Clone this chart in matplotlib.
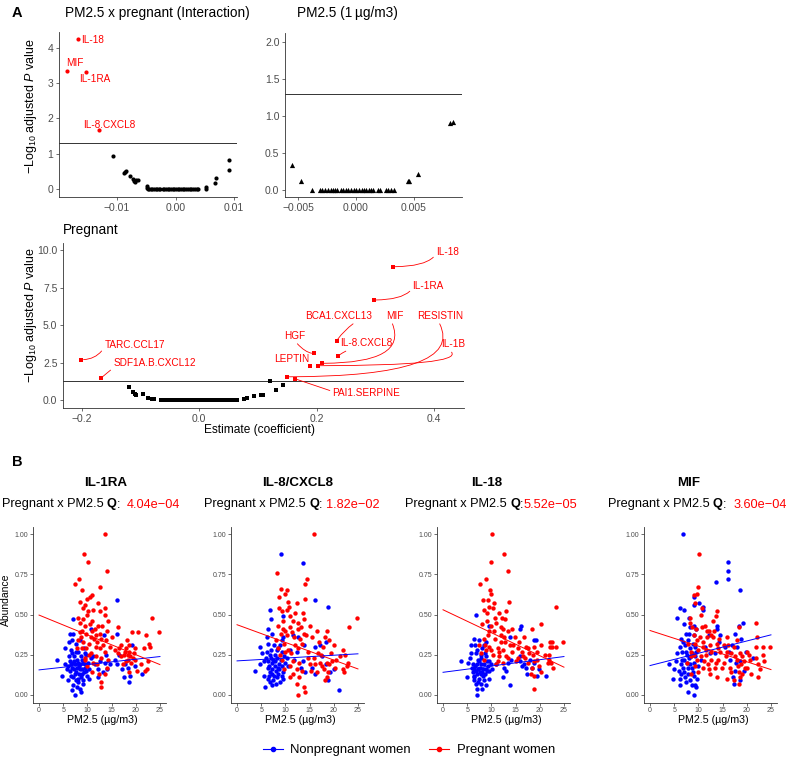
import numpy as np
import matplotlib
matplotlib.use('Agg')
import matplotlib.pyplot as plt
from matplotlib.lines import Line2D

plt.rcParams['font.family'] = ['Liberation Sans', 'DejaVu Sans']
plt.rcParams['mathtext.fontset'] = 'custom'
plt.rcParams['mathtext.rm'] = 'Liberation Sans'
plt.rcParams['mathtext.it'] = 'Liberation Sans:italic'
plt.rcParams['mathtext.bf'] = 'Liberation Sans:bold'

# ---------------- panel A data ----------------
# PM2.5 x pregnant interaction
int_names = ['IL-18', 'MIF', 'IL-1RA', 'IL-8.CXCL8']
int_sig_est = [-0.0167, -0.01845, -0.0153, -0.0130]
int_sig_p = [4.24, 3.34, 3.32, 1.67]
int_lab_x = [-0.01615, -0.01723, -0.01383, -0.01137]
int_lab_y = [4.22, 3.55, 3.10, 1.82]
int_ns_est = [-0.0107, -0.0088, -0.0086, -0.0084, -0.0078, -0.0072, -0.0071, -0.0070,
              -0.0068, -0.0064, -0.0049, -0.0049, -0.0047, -0.0045, -0.0042, -0.0040,
              -0.0037, -0.0034, -0.0031, -0.0029, -0.0026, -0.0022, -0.0020, -0.0017,
              -0.0013, -0.0011, -0.0008, -0.0004, -0.0002, 0.0001, 0.0004, 0.0006,
              0.0009, 0.0013, 0.0015, 0.0018, 0.0021, 0.0024, 0.0027, 0.0030, 0.0033,
              0.0036, 0.0038, 0.0052, 0.0052, 0.0068, 0.0069, 0.0091, 0.0092]
int_ns_p = [0.92, 0.44, 0.47, 0.50, 0.36, 0.28, 0.22, 0.19,
            0.25, 0.24, 0.07, 0.02, 0.01, 0.00, 0.01, 0.00,
            0.00, 0.01, 0.00, 0.00, 0.01, 0.00, 0.00, 0.00,
            0.01, 0.00, 0.00, 0.00, 0.01, 0.00, 0.00, 0.00,
            0.00, 0.01, 0.00, 0.00, 0.00, 0.00, 0.01, 0.00, 0.00,
            0.00, 0.00, 0.05, 0.01, 0.18, 0.30, 0.81, 0.53]

# PM2.5 main effect (1 ug/m3)
pm_est = [-0.0055, -0.0048, -0.0038, -0.0031, -0.0029, -0.0027, -0.0024, -0.0022,
          -0.0020, -0.0018, -0.0016, -0.0013, -0.0011, -0.0009, -0.0007, -0.0004,
          -0.0002, 0.0000, 0.0003, 0.0005, 0.0007, 0.0009, 0.0011, 0.0013, 0.0015,
          0.0019, 0.0021, 0.0026, 0.0028, 0.0030, 0.0033, 0.0045, 0.0046, 0.0054,
          0.0082, 0.0084]
pm_p = [0.34, 0.13, 0.00, 0.01, 0.00, 0.01, 0.00, 0.00,
        0.01, 0.00, 0.00, 0.01, 0.00, 0.00, 0.01, 0.00,
        0.00, 0.01, 0.00, 0.00, 0.01, 0.00, 0.00, 0.01, 0.00,
        0.01, 0.00, 0.01, 0.00, 0.01, 0.00, 0.13, 0.12, 0.22,
        0.91, 0.92]

# Pregnant main effect
preg_names = ['IL-18', 'IL-1RA', 'BCA1.CXCL13', 'HGF', 'IL-8.CXCL8', 'MIF', 'IL-1B',
              'LEPTIN', 'RESISTIN', 'PAI1.SERPINE', 'TARC.CCL17', 'SDF1A.B.CXCL12']
preg_sig_est = [0.330, 0.297, 0.234, 0.195, 0.236, 0.209, 0.202, 0.189, 0.150, 0.163,
                -0.2006, -0.1666]
preg_sig_p = [8.89, 6.67, 3.95, 3.11, 2.93, 2.45, 2.29, 2.29, 1.55, 1.42, 2.69, 1.49]
preg_lab_x = [0.423, 0.390, 0.237, 0.163, 0.285, 0.333, 0.432, 0.158, 0.411, 0.285,
              -0.110, -0.076]
preg_lab_y = [9.89, 7.62, 5.60, 4.27, 3.78, 5.60, 3.71, 2.71, 5.60, 0.44, 3.67, 2.44]
preg_ns_est = [-0.120, -0.112, -0.110, -0.107, -0.096, -0.087, -0.080, -0.077,
               -0.065, -0.061, -0.057, -0.053, -0.050, -0.046, -0.042, -0.038,
               -0.034, -0.031, -0.027, -0.023, -0.019, -0.015, -0.012, -0.008,
               -0.004, 0.000, 0.004, 0.008, 0.012, 0.016, 0.020, 0.025, 0.031,
               0.036, 0.040, 0.046, 0.050, 0.055, 0.060, 0.065,
               0.077, 0.082, 0.093, 0.106, 0.108, 0.120, 0.130, 0.142]
preg_ns_p = [0.87, 0.53, 0.38, 0.31, 0.38, 0.11, 0.04, 0.05,
             0.01, 0.00, 0.01, 0.00, 0.00, 0.01, 0.00, 0.00,
             0.01, 0.00, 0.00, 0.00, 0.01, 0.00, 0.00, 0.00,
             0.00, 0.01, 0.00, 0.00, 0.00, 0.01, 0.00, 0.00, 0.00,
             0.01, 0.00, 0.00, 0.01, 0.00, 0.00, 0.01,
             0.07, 0.16, 0.27, 0.36, 0.33, 1.24, 0.67, 1.02]

# ---------------- panel B data (PM2.5, abundance) ----------------
il1ra_preg = [(13.6, 1.00), (9.2, 0.88), (10.1, 0.83), (14.0, 0.77), (8.2, 0.72), (7.5, 0.69),
              (12.6, 0.67), (8.8, 0.65), (10.5, 0.61), (10.0, 0.60), (8.5, 0.58), (9.4, 0.56),
              (9.1, 0.54), (10.2, 0.52), (11.2, 0.53), (12.6, 0.52), (13.7, 0.54), (13.7, 0.50),
              (14.2, 0.46), (13.1, 0.43), (12.2, 0.43), (11.0, 0.46), (8.0, 0.48), (8.4, 0.45),
              (8.4, 0.39), (8.9, 0.40), (10.7, 0.36), (11.7, 0.37), (11.4, 0.35), (12.6, 0.38),
              (14.0, 0.40), (15.1, 0.36), (16.3, 0.42), (19.2, 0.39), (20.4, 0.39), (23.3, 0.48),
              (24.9, 0.39), (22.1, 0.37), (22.7, 0.32), (22.9, 0.30), (8.0, 0.34), (8.9, 0.29),
              (7.9, 0.29), (9.8, 0.29), (9.4, 0.23), (11.7, 0.30), (10.8, 0.26), (12.6, 0.29),
              (13.6, 0.27), (12.8, 0.23), (14.3, 0.22), (16.6, 0.29), (16.4, 0.26), (18.0, 0.29),
              (18.5, 0.27), (18.2, 0.34), (17.6, 0.25), (18.9, 0.24), (19.6, 0.26), (19.1, 0.20),
              (17.3, 0.19), (20.3, 0.15), (22.0, 0.15), (22.3, 0.16), (18.7, 0.14), (11.9, 0.19),
              (11.0, 0.14), (12.4, 0.13), (14.1, 0.17), (13.6, 0.13), (12.9, 0.08), (12.9, 0.05),
              (11.1, 0.20), (10.0, 0.18), (9.6, 0.22), (9.0, 0.33), (10.4, 0.32), (12.0, 0.33),
              (17.0, 0.24), (18.4, 0.22), (19.4, 0.23), (9.0, 0.47), (10.6, 0.44), (9.7, 0.38),
              (9.6, 0.43), (10.9, 0.40), (11.5, 0.41), (12.8, 0.35), (13.3, 0.31), (15.8, 0.28),
              (16.9, 0.31), (17.7, 0.27), (18.6, 0.31), (19.9, 0.22), (21.0, 0.19), (21.6, 0.29),
              (8.7, 0.36), (10.3, 0.25), (11.8, 0.24), (13.8, 0.34), (14.6, 0.30), (12.2, 0.57),
              (11.0, 0.62), (9.9, 0.50), (17.9, 0.21), (18.3, 0.25), (19.8, 0.29), (22.6, 0.21)]
il1ra_nonpreg = [(16.1, 0.59), (7.0, 0.47), (6.4, 0.38), (7.1, 0.38), (10.7, 0.41), (13.4, 0.37),
                 (16.2, 0.38), (19.3, 0.31), (6.1, 0.33), (6.8, 0.34), (5.4, 0.29), (6.6, 0.28),
                 (3.7, 0.22), (5.3, 0.19), (6.5, 0.21), (7.0, 0.20), (7.5, 0.19), (8.0, 0.20),
                 (8.5, 0.19), (9.1, 0.20), (9.6, 0.19), (6.8, 0.17), (7.3, 0.16), (7.8, 0.17),
                 (8.4, 0.16), (8.9, 0.16), (9.4, 0.17), (6.3, 0.15), (7.7, 0.14), (8.2, 0.13),
                 (6.6, 0.12), (7.1, 0.11), (7.7, 0.09), (8.0, 0.08), (4.7, 0.12), (7.0, 0.06),
                 (7.5, 0.00), (8.4, 0.04), (9.1, 0.07), (10.3, 0.10), (14.0, 0.16), (14.7, 0.19),
                 (13.6, 0.20), (16.1, 0.19), (17.1, 0.16), (17.5, 0.11), (18.7, 0.08), (21.2, 0.13),
                 (18.3, 0.17), (12.7, 0.21), (11.6, 0.19), (10.1, 0.20), (10.8, 0.23), (9.8, 0.25),
                 (8.8, 0.22), (9.4, 0.26), (8.0, 0.27), (13.3, 0.14), (12.1, 0.11), (7.2, 0.24),
                 (8.6, 0.11), (7.4, 0.13), (6.0, 0.18), (9.3, 0.14), (7.9, 0.22), (8.7, 0.24),
                 (6.2, 0.24), (6.9, 0.26), (7.6, 0.27), (8.3, 0.18), (8.8, 0.13), (9.7, 0.15),
                 (6.7, 0.19), (7.3, 0.21), (7.9, 0.05), (8.1, 0.10), (9.0, 0.09), (6.0, 0.09),
                 (5.7, 0.16), (10.0, 0.12), (9.3, 0.29), (7.7, 0.32), (8.5, 0.34), (12.2, 0.16),
                 (13.9, 0.25), (15.8, 0.22), (16.5, 0.25), (17.8, 0.19), (18.9, 0.12), (19.8, 0.18),
                 (6.9, 0.03), (8.6, 0.02), (10.4, 0.16), (11.2, 0.24)]

il8_preg = [(16.0, 1.00), (8.3, 0.76), (14.4, 0.72), (14.0, 0.69), (9.0, 0.66), (10.4, 0.65),
            (10.0, 0.63), (8.7, 0.61), (10.5, 0.58), (14.1, 0.60), (12.4, 0.57), (8.6, 0.54),
            (10.4, 0.53), (13.6, 0.51), (13.8, 0.47), (11.6, 0.46), (12.7, 0.45), (9.6, 0.46),
            (8.5, 0.43), (10.9, 0.42), (12.7, 0.41), (16.6, 0.40), (18.5, 0.40), (24.8, 0.48),
            (23.2, 0.42), (15.0, 0.43), (9.0, 0.38), (10.4, 0.37), (11.8, 0.36), (13.8, 0.38),
            (15.4, 0.36), (18.1, 0.36), (20.0, 0.31), (17.8, 0.30), (13.4, 0.32), (11.9, 0.31),
            (9.7, 0.32), (8.5, 0.29), (10.5, 0.28), (12.6, 0.29), (14.7, 0.27), (16.7, 0.26),
            (19.5, 0.26), (21.9, 0.28), (22.4, 0.25), (11.2, 0.26), (9.2, 0.22), (11.6, 0.21),
            (12.9, 0.20), (10.9, 0.18), (9.8, 0.16), (12.3, 0.16), (15.0, 0.19), (16.2, 0.19),
            (17.6, 0.18), (18.0, 0.16), (18.8, 0.14), (20.2, 0.17), (21.9, 0.16), (22.2, 0.14),
            (18.5, 0.11), (18.1, 0.09), (12.9, 0.11), (12.3, 0.07), (13.8, 0.05), (12.6, 0.00),
            (14.1, 0.02), (10.9, 0.11), (15.2, 0.15), (16.0, 0.23), (8.0, 0.34), (9.4, 0.41),
            (11.0, 0.49), (17.2, 0.20), (19.0, 0.19), (13.0, 0.35),
            (9.3, 0.52), (10.8, 0.55), (12.0, 0.51), (9.9, 0.40), (11.4, 0.39), (13.2, 0.42),
            (14.3, 0.37), (16.9, 0.33), (19.0, 0.34), (21.2, 0.24), (23.0, 0.20), (17.4, 0.25),
            (19.7, 0.21), (11.5, 0.13), (13.5, 0.15), (14.6, 0.23), (16.6, 0.14), (18.6, 0.20),
            (20.4, 0.22), (22.7, 0.18), (10.0, 0.27), (8.8, 0.25)]
il8_nonpreg = [(9.0, 0.88), (13.7, 0.82), (18.8, 0.55), (16.1, 0.59), (6.9, 0.53), (7.1, 0.47),
               (9.6, 0.49), (6.5, 0.41), (7.2, 0.38), (9.2, 0.34), (12.6, 0.36), (11.6, 0.37),
               (4.8, 0.30), (6.5, 0.32), (7.6, 0.31), (8.5, 0.29), (6.1, 0.27), (6.8, 0.25),
               (7.8, 0.25), (9.2, 0.27), (4.7, 0.19), (5.6, 0.21), (6.5, 0.21), (7.2, 0.20),
               (7.8, 0.21), (8.6, 0.19), (9.3, 0.18), (6.3, 0.17), (7.2, 0.16), (8.0, 0.15),
               (8.7, 0.16), (9.5, 0.14), (3.8, 0.15), (5.6, 0.12), (6.3, 0.10), (7.4, 0.09),
               (8.3, 0.11), (9.2, 0.12), (5.8, 0.05), (7.2, 0.06), (8.0, 0.07), (8.8, 0.08),
               (13.6, 0.21), (13.3, 0.17), (14.0, 0.14), (16.2, 0.13), (16.2, 0.30), (17.1, 0.31),
               (18.4, 0.33), (15.4, 0.17), (18.8, 0.09), (20.0, 0.16), (21.1, 0.03), (10.9, 0.28),
               (10.3, 0.23), (7.0, 0.23), (8.2, 0.23), (6.8, 0.14), (9.9, 0.20), (7.7, 0.12),
               (6.6, 0.18), (7.5, 0.22), (8.4, 0.17), (9.0, 0.22), (9.8, 0.24), (6.0, 0.23),
               (5.2, 0.26), (7.0, 0.28), (8.2, 0.28), (8.8, 0.31), (9.6, 0.36), (6.2, 0.36),
               (7.3, 0.13), (8.5, 0.13), (9.4, 0.10), (6.9, 0.08), (10.6, 0.18), (11.8, 0.22),
               (12.3, 0.27), (13.9, 0.31), (17.5, 0.24), (18.3, 0.19), (19.2, 0.14), (7.9, 0.18),
               (6.7, 0.12)]

il18_preg = [(10.1, 1.00), (12.6, 0.88), (9.9, 0.83), (13.5, 0.77), (8.8, 0.72), (7.6, 0.69),
             (9.7, 0.65), (9.9, 0.63), (8.3, 0.59), (9.2, 0.59), (13.7, 0.58), (10.5, 0.57),
             (8.5, 0.53), (10.3, 0.54), (11.5, 0.51), (23.3, 0.55), (12.2, 0.48), (12.8, 0.47),
             (9.0, 0.46), (8.1, 0.44), (9.9, 0.43), (20.3, 0.44), (9.4, 0.40), (10.5, 0.40),
             (11.9, 0.42), (14.2, 0.41), (13.5, 0.40), (18.4, 0.41), (12.7, 0.36), (14.8, 0.36),
             (16.7, 0.36), (8.4, 0.35), (10.8, 0.35), (22.1, 0.33), (22.6, 0.33), (24.9, 0.33),
             (22.1, 0.30), (22.6, 0.30), (23.3, 0.30), (7.5, 0.31), (9.6, 0.30), (11.3, 0.29),
             (12.4, 0.28), (13.8, 0.31), (15.5, 0.29), (17.6, 0.29), (18.9, 0.30), (20.3, 0.31),
             (7.9, 0.26), (10.3, 0.25), (11.6, 0.24), (13.1, 0.24), (14.2, 0.27), (16.5, 0.24),
             (18.6, 0.25), (21.6, 0.20), (22.4, 0.20), (22.8, 0.17), (8.4, 0.22), (11.0, 0.19),
             (12.4, 0.20), (15.1, 0.21), (17.0, 0.23), (18.9, 0.21), (18.3, 0.17), (18.1, 0.13),
             (18.9, 0.12), (18.8, 0.04), (20.3, 0.14), (11.4, 0.21), (9.3, 0.37), (11.0, 0.45),
             (12.0, 0.33), (17.8, 0.26), (19.5, 0.22), (8.9, 0.28),
             (9.1, 0.51), (10.8, 0.48), (11.9, 0.37), (12.9, 0.33), (14.5, 0.31), (15.8, 0.33),
             (16.3, 0.27), (17.2, 0.30), (19.4, 0.27), (21.0, 0.25), (22.0, 0.25), (8.6, 0.31),
             (10.0, 0.28), (11.6, 0.27), (13.4, 0.23), (15.5, 0.23), (17.6, 0.20), (19.9, 0.18),
             (21.9, 0.22), (12.4, 0.41), (13.0, 0.52), (9.4, 0.55)]
il18_nonpreg = [(6.9, 0.50), (9.4, 0.43), (16.2, 0.43), (16.0, 0.41), (19.2, 0.34), (6.3, 0.35),
                (5.8, 0.31), (6.7, 0.31), (8.4, 0.31), (8.9, 0.33), (13.8, 0.36), (6.8, 0.26),
                (7.8, 0.25), (8.9, 0.24), (5.6, 0.23), (3.7, 0.21), (5.1, 0.20), (6.1, 0.19),
                (7.0, 0.19), (7.8, 0.19), (8.5, 0.19), (9.2, 0.18), (9.9, 0.19), (11.0, 0.19),
                (6.5, 0.16), (7.3, 0.16), (8.2, 0.16), (8.9, 0.16), (9.6, 0.15), (6.1, 0.14),
                (7.0, 0.13), (7.8, 0.13), (8.7, 0.13), (4.9, 0.11), (6.5, 0.11), (7.5, 0.10),
                (8.4, 0.09), (6.8, 0.07), (7.8, 0.07), (7.1, 0.04), (7.0, 0.00), (8.9, 0.06),
                (12.4, 0.11), (13.8, 0.06), (12.7, 0.17), (13.5, 0.20), (16.0, 0.21), (16.3, 0.18),
                (17.2, 0.17), (17.4, 0.13), (18.9, 0.20), (18.4, 0.17), (19.4, 0.12), (21.3, 0.12),
                (18.9, 0.34), (7.4, 0.21), (8.1, 0.14), (9.0, 0.21), (6.4, 0.12), (7.6, 0.17),
                (6.6, 0.18), (7.2, 0.22), (7.9, 0.23), (8.6, 0.26), (9.5, 0.21), (6.0, 0.17),
                (6.9, 0.15), (7.6, 0.14), (8.3, 0.12), (9.1, 0.15), (10.1, 0.16), (6.4, 0.09),
                (7.3, 0.08), (8.0, 0.04), (9.4, 0.10), (5.8, 0.26), (7.1, 0.28), (8.0, 0.29),
                (7.5, 0.34), (13.0, 0.15), (14.0, 0.22), (16.8, 0.19), (18.0, 0.22), (19.8, 0.16),
                (15.9, 0.24)]

mif_preg = [(10.1, 0.88), (10.0, 0.67), (9.8, 0.63), (9.0, 0.62), (9.2, 0.57), (10.7, 0.54),
            (8.3, 0.48), (10.5, 0.50), (13.9, 0.52), (13.6, 0.49), (13.1, 0.46), (8.3, 0.45),
            (8.7, 0.42), (10.7, 0.42), (11.7, 0.40), (12.2, 0.40), (13.3, 0.40), (22.0, 0.45),
            (18.3, 0.42), (9.0, 0.37), (10.3, 0.36), (11.7, 0.36), (13.1, 0.36), (14.3, 0.35),
            (16.0, 0.36), (22.2, 0.36), (7.9, 0.32), (9.3, 0.32), (10.9, 0.33), (12.4, 0.31),
            (13.8, 0.32), (16.2, 0.31), (18.0, 0.34), (22.0, 0.30), (23.3, 0.30), (24.8, 0.30),
            (8.5, 0.27), (10.0, 0.28), (11.6, 0.28), (12.7, 0.27), (14.5, 0.27), (16.0, 0.27),
            (17.4, 0.30), (18.6, 0.26), (20.1, 0.27), (23.3, 0.25), (8.4, 0.24), (9.8, 0.22),
            (11.2, 0.21), (12.5, 0.22), (14.1, 0.22), (15.7, 0.24), (17.9, 0.22), (19.4, 0.21),
            (20.7, 0.22), (22.4, 0.19), (22.7, 0.16), (22.4, 0.11), (7.6, 0.20), (9.3, 0.18),
            (11.0, 0.17), (12.1, 0.16), (13.4, 0.17), (14.8, 0.17), (16.5, 0.17), (18.2, 0.18),
            (20.0, 0.17), (10.0, 0.14), (12.4, 0.13), (13.9, 0.11), (16.0, 0.10), (17.3, 0.09),
            (18.6, 0.11), (18.3, 0.07), (8.4, 0.13), (18.8, 0.19), (19.0, 0.13), (11.5, 0.25),
            (9.6, 0.41), (11.3, 0.43), (12.7, 0.37), (14.0, 0.29), (15.2, 0.31), (16.8, 0.26),
            (17.5, 0.24), (19.0, 0.24), (20.5, 0.25), (21.9, 0.23), (9.1, 0.25), (10.6, 0.24),
            (12.0, 0.19), (13.6, 0.20), (15.2, 0.20), (16.8, 0.14), (18.4, 0.14), (19.6, 0.17),
            (20.9, 0.13), (23.5, 0.21), (11.0, 0.30), (9.7, 0.34)]
mif_nonpreg = [(6.9, 1.00), (16.2, 0.83), (16.2, 0.77), (16.2, 0.72), (13.6, 0.70), (18.6, 0.65),
               (9.1, 0.61), (10.1, 0.57), (9.0, 0.56), (6.1, 0.54), (7.1, 0.53), (11.0, 0.55),
               (11.0, 0.53), (5.6, 0.48), (8.1, 0.48), (9.0, 0.43), (9.5, 0.41), (13.8, 0.43),
               (13.9, 0.41), (19.3, 0.45), (18.3, 0.43), (7.4, 0.38), (8.1, 0.38), (9.0, 0.37),
               (6.5, 0.35), (14.5, 0.37), (17.6, 0.38), (18.8, 0.35), (6.2, 0.30), (7.2, 0.31),
               (8.3, 0.29), (9.2, 0.30), (5.5, 0.26), (6.7, 0.27), (7.6, 0.25), (8.6, 0.26),
               (9.6, 0.27), (12.4, 0.26), (13.4, 0.26), (15.5, 0.30), (16.4, 0.27), (18.0, 0.30),
               (16.5, 0.22), (17.7, 0.20), (21.2, 0.23), (4.0, 0.19), (5.0, 0.16), (6.5, 0.19),
               (7.6, 0.20), (8.3, 0.19), (9.0, 0.20), (10.0, 0.18), (6.0, 0.15), (7.0, 0.14),
               (7.9, 0.13), (8.9, 0.14), (4.8, 0.10), (6.1, 0.10), (7.2, 0.11), (8.3, 0.09),
               (9.1, 0.12), (6.2, 0.06), (9.3, 0.06), (9.6, 0.05), (7.9, 0.02), (9.1, 0.00),
               (19.4, 0.15), (17.1, 0.11), (17.4, 0.07), (18.6, 0.09), (7.0, 0.22), (8.0, 0.23),
               (6.6, 0.22), (7.4, 0.27), (8.4, 0.24), (9.3, 0.24), (7.8, 0.17), (8.7, 0.17),
               (6.3, 0.13), (7.5, 0.08), (8.6, 0.06), (9.8, 0.10), (6.9, 0.33), (7.8, 0.34),
               (8.8, 0.32), (7.1, 0.44), (8.2, 0.42), (10.5, 0.22), (11.3, 0.30), (12.1, 0.37),
               (14.2, 0.33), (16.9, 0.31), (17.6, 0.15), (18.5, 0.21), (19.8, 0.27), (5.4, 0.21),
               (6.8, 0.17)]

panel_titles = ['IL-1RA', 'IL-8/CXCL8', 'IL-18', 'MIF']
panel_q = ['4.04e\u221204', '1.82e\u221202', '5.52e\u221205', '3.60e\u221204']
panel_preg = [il1ra_preg, il8_preg, il18_preg, mif_preg]
panel_nonpreg = [il1ra_nonpreg, il8_nonpreg, il18_nonpreg, mif_nonpreg]
# fitted lm lines evaluated at PM2.5 = 0 and 25
fit_pm = [0, 25]
fit_preg = [(0.497, 0.189), (0.437, 0.162), (0.530, 0.173), (0.401, 0.158)]
fit_nonpreg = [(0.156, 0.239), (0.212, 0.256), (0.141, 0.239), (0.183, 0.374)]

RED = '#FF0000'
BLUE = '#0000FF'
AXC = '#333333'
TXC = '#4D4D4D'

W, H = 786, 759
fig = plt.figure(figsize=(W / 100, H / 100), dpi=100)


def px_axes(x0, y0, x1, y1):
    return fig.add_axes([x0 / W, 1 - y1 / H, (x1 - x0) / W, (y1 - y0) / H])


def style(ax, size):
    for s in ['top', 'right']:
        ax.spines[s].set_visible(False)
    for s in ['left', 'bottom']:
        ax.spines[s].set_linewidth(0.6)
        ax.spines[s].set_color(AXC)
    ax.tick_params(length=2.5, width=0.5, color=AXC, labelcolor=TXC, labelsize=size, pad=1.5)


ylab = r'$-\mathrm{Log}_{10}$ adjusted $P$ value'

# ---- A1: interaction ----
ax = px_axes(59, 32, 237, 197)
style(ax, 7.5)
ax.scatter(int_ns_est, int_ns_p, s=9, c='black', linewidths=0, zorder=3)
ax.scatter(int_sig_est, int_sig_p, s=9, c=RED, linewidths=0, zorder=3)
ax.axhline(1.3, color=AXC, lw=0.7)
ax.set_xlim(-0.0199, 0.0105)
ax.set_ylim(-0.23, 4.44)
ax.set_xticks([-0.01, 0, 0.01])
ax.set_yticks([0, 1, 2, 3, 4])
for i, name in enumerate(int_names):
    ax.text(int_lab_x[i], int_lab_y[i], name, color=RED, fontsize=7.2,
            ha='left' if i == 0 else 'center', va='center')
ax.set_ylabel(ylab, fontsize=9)
ax.yaxis.set_label_coords(-0.112, 0.55)
fig.text(65 / W, 1 - 13 / H, 'PM2.5 x pregnant (Interaction)', fontsize=9.8, va='center')
fig.text(12 / W, 1 - 13 / H, 'A', fontsize=10.5, fontweight='bold', va='center')

# ---- A2: PM2.5 ----
ax = px_axes(285, 33, 462, 197)
style(ax, 7.5)
ax.scatter(pm_est, pm_p, s=14, c='black', marker='^', linewidths=0, zorder=3)
ax.axhline(1.3, color=AXC, lw=0.7)
ax.set_xlim(-0.00615, 0.0092)
ax.set_ylim(-0.09, 2.12)
ax.set_xticks([-0.005, 0, 0.005])
ax.set_yticks([0, 0.5, 1.0, 1.5, 2.0])
fig.text(297 / W, 1 - 13 / H, 'PM2.5 (1\u2009\u00b5g/m3)', fontsize=9.8, va='center')

# ---- A3: pregnant ----
ax = px_axes(63, 243, 464, 408)
style(ax, 7.5)
ax.scatter(preg_ns_est, preg_ns_p, s=9, c='black', marker='s', linewidths=0, zorder=3)
ax.scatter(preg_sig_est, preg_sig_p, s=9, c=RED, marker='s', linewidths=0, zorder=3)
ax.axhline(1.3, color=AXC, lw=0.7)
ax.set_xlim(-0.232, 0.451)
ax.set_ylim(-0.53, 10.47)
ax.set_xticks([-0.2, 0, 0.2, 0.4])
ax.set_yticks([0, 2.5, 5, 7.5, 10])
conn = {
    'IL-18': ((0, 0.3), 'angle3,angleA=60,angleB=0'),
    'IL-1RA': ((0, 0.3), 'angle3,angleA=60,angleB=0'),
    'BCA1.CXCL13': ((0.78, 0.0), 'arc3,rad=0.1'),
    'HGF': ((0.5, 0.0), 'angle3,angleA=-50,angleB=0'),
    'IL-8.CXCL8': ((0.3, 0.1), 'arc3,rad=0.1'),
    'MIF': ((0.3, 0.0), 'angle3,angleA=-65,angleB=0'),
    'IL-1B': ((0.3, 0.0), 'angle3,angleA=-30,angleB=0'),
    'RESISTIN': ((0.45, 0.0), 'angle3,angleA=-60,angleB=0'),
    'PAI1.SERPINE': ((0.0, 0.7), 'arc3,rad=0'),
    'TARC.CCL17': ((0, 0.3), 'angle3,angleA=60,angleB=0'),
    'SDF1A.B.CXCL12': ((0.02, 0.2), 'arc3,rad=0'),
}
for i, name in enumerate(preg_names):
    kw = {}
    if name in conn:
        rp, cs = conn[name]
        kw['arrowprops'] = dict(arrowstyle='-', color=RED, lw=0.6, relpos=rp,
                                shrinkA=0, shrinkB=1.5, connectionstyle=cs)
    ax.annotate(name, xy=(preg_sig_est[i], preg_sig_p[i]),
                xytext=(preg_lab_x[i], preg_lab_y[i]), color=RED, fontsize=7.2,
                ha='center', va='center', **kw)
ax.set_ylabel(ylab, fontsize=9)
ax.yaxis.set_label_coords(-0.06, 0.56)
ax.set_xlabel('Estimate (coefficient)', fontsize=8.6)
ax.xaxis.set_label_coords(0.49, -0.133)
ax.xaxis.label.set_va('center')
fig.text(63 / W, 1 - 230 / H, 'Pregnant', fontsize=9.8, va='center')

# ---- B: scatter panels ----
fig.text(12 / W, 1 - 462 / H, 'B', fontsize=10.5, fontweight='bold', va='center')
lefts = [33, 231, 437, 644]
title_cx = [106, 297.5, 486.5, 688.5]
sub_cx = [91, 291.7, 491, 697]
q_gap = [2, 1, 0, 2]
sub_parts = []
for k in range(4):
    ax = px_axes(lefts[k], 527, lefts[k] + 133, 703)
    style(ax, 5)
    ax.tick_params(length=2, pad=1.2)
    p = np.array(panel_preg[k])
    n = np.array(panel_nonpreg[k])
    ax.scatter(n[:, 0], n[:, 1], s=10, c=BLUE, linewidths=0, zorder=2)
    ax.scatter(p[:, 0], p[:, 1], s=10, c=RED, linewidths=0, zorder=2)
    ax.plot(fit_pm, fit_nonpreg[k], color=BLUE, lw=0.7, zorder=3)
    ax.plot(fit_pm, fit_preg[k], color=RED, lw=0.7, zorder=3)
    ax.set_xlim(-1.25, 26.25)
    ax.set_ylim(-0.05, 1.045)
    ax.set_xticks([0, 5, 10, 15, 20, 25])
    ax.set_yticks([0, 0.25, 0.5, 0.75, 1.0])
    ax.set_xlabel('PM2.5 (\u00b5g/m3)', fontsize=7.7)
    ax.xaxis.set_label_coords(0.52, -0.097)
    ax.xaxis.label.set_va('center')
    if k == 0:
        ax.set_ylabel('Abundance', fontsize=7.5)
        ax.yaxis.set_label_coords(-0.165, 0.588)
    fig.text(title_cx[k] / W, 1 - 483 / H, panel_titles[k], fontsize=9.6,
             fontweight='bold', ha='center', va='center')
    y = 1 - 504.5 / H
    t1 = fig.text(0, y, 'Pregnant x PM2.5', fontsize=9.2, va='center')
    t2 = fig.text(0, y, 'Q', fontsize=9.2, fontweight='bold', va='center')
    t3 = fig.text(0, y, ':', fontsize=9.2, va='center')
    t4 = fig.text(0, y, panel_q[k], fontsize=9.2, color=RED, va='center')
    sub_parts.append((k, [t1, t2, t3, t4]))

# lay out the rich subtitles
fig.canvas.draw()
r = fig.canvas.get_renderer()
space = 3.5
for k, parts in sub_parts:
    widths = [t.get_window_extent(r).width for t in parts]
    gaps = [space, 0, space * q_gap[k]]
    total = sum(widths) + sum(gaps)
    x = sub_cx[k] - total / 2
    for i, t in enumerate(parts):
        t.set_x(x / W)
        x += widths[i] + (gaps[i] if i < 3 else 0)

handles = [Line2D([0], [0], color=BLUE, marker='o', markersize=3, lw=0.8, label='Nonpregnant women'),
           Line2D([0], [0], color=RED, marker='o', markersize=3, lw=0.8, label='Pregnant women')]
fig.legend(handles=handles, loc='center', bbox_to_anchor=(409 / W, 1 - 750 / H), ncol=2,
           frameon=False, fontsize=9.4, handlelength=1.5, handletextpad=0.6,
           columnspacing=1.4, borderpad=0, borderaxespad=0)

fig.savefig('out.png', dpi=100)
